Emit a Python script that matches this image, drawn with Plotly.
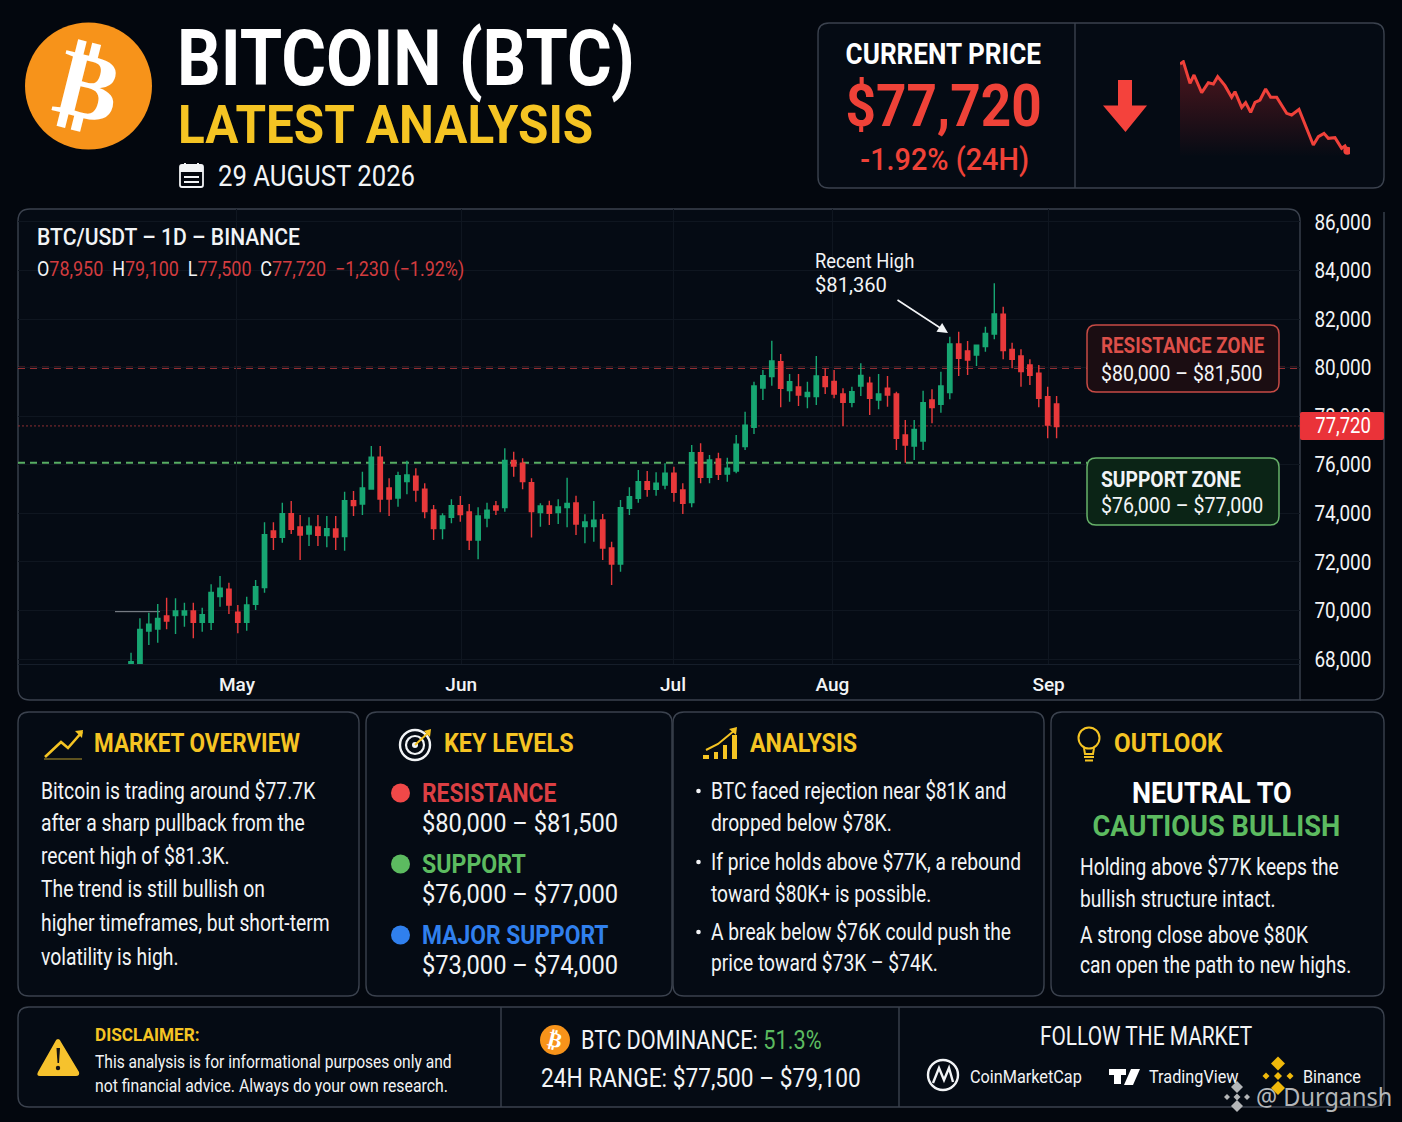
import json
import re
import plotly.graph_objects as go

W = 1402
H = 1122
BG = "#03070e"
PANEL = "#050b14"
EDGE = "#3b424e"
WHITE = "#f2f4f6"
YELLOW = "#f5c423"
RED = "#ef4238"
GREEN = "#5cbb60"
BLUE = "#3080ee"
FONT = "Roboto, sans-serif"

# daily candles
candle_open = [67822, 67400, 69154, 69236, 69772, 69785, 69813, 69977, 69511, 69511,
               70568, 70870, 69923, 69511, 70252, 70939, 73273, 73012, 73987, 73438,
               73149, 73438, 73081, 73355, 73039, 74522, 74385, 75003, 76307, 75044,
               74632, 75305, 75525, 74989, 74138, 73369, 73836, 74316, 74055, 72902,
               73808, 74302, 74234, 76183, 76060, 75264, 74028, 74302, 74028, 74234,
               74426, 73451, 73451, 73726, 72573, 71913, 74206, 74618, 75305, 74989,
               75168, 75648, 74962, 74440, 76499, 75483, 76238, 75621, 75744, 76746,
               77542, 79163, 79629, 80247, 79053, 79204, 78806, 78806, 79629, 79437,
               78915, 78572, 79245, 79355, 78668, 79149, 78915, 77227, 76774, 76980,
               78668, 78490, 78970, 80975, 80687, 80522, 80865, 81387, 82197, 80755,
               80481, 80110, 79767, 78806, 78504]
candle_high = [68261, 69675, 69909, 70266, 70527, 70499, 70321, 70321, 70115, 71076,
               71419, 71145, 70225, 70568, 71254, 73630, 73630, 74440, 74508, 73932,
               73836, 73932, 73891, 73891, 74893, 74920, 75717, 76774, 76774, 75442,
               75717, 76170, 75854, 75236, 74343, 73999, 74577, 74714, 74385, 74248,
               74440, 74508, 76678, 76541, 76266, 75442, 74412, 74522, 74577, 75470,
               74728, 73959, 74508, 73973, 72833, 74550, 75071, 75785, 75744, 75689,
               76060, 75923, 75236, 76815, 76884, 76403, 76499, 76293, 77227, 78188,
               79423, 79904, 81112, 80563, 79739, 79739, 79423, 80481, 79973, 79904,
               79149, 79218, 80179, 79629, 79739, 79657, 79012, 77844, 77844, 79053,
               79108, 79835, 81277, 81483, 81098, 80934, 81689, 83474, 82513, 81030,
               80755, 80343, 80110, 79218, 78833]
candle_low = [67600, 67300, 68577, 68673, 69222, 69030, 69332, 68852, 69127, 69195,
              70156, 69854, 69058, 69168, 70019, 70733, 72490, 72792, 73149, 72078,
              72655, 72655, 72600, 72490, 72463, 73891, 73932, 75003, 74042, 73891,
              74275, 74783, 74481, 73795, 72902, 72930, 73589, 73657, 72490, 72106,
              73424, 73932, 74069, 75511, 74989, 73000, 73451, 73520, 73561, 73424,
              73108, 72765, 72833, 72078, 71049, 71598, 73932, 74440, 74687, 74728,
              74989, 74481, 73973, 74248, 75236, 75236, 75374, 75305, 75648, 76609,
              77268, 78668, 79259, 78366, 78600, 78421, 78325, 78462, 78915, 78737,
              77597, 78366, 78833, 78051, 78284, 78394, 76609, 76087, 76197, 76609,
              77707, 78147, 78696, 79657, 79698, 80069, 80659, 81167, 80343, 79973,
              79217, 79286, 78366, 77089, 77089]
candle_close = [67890, 69222, 69429, 69675, 69566, 69977, 69977, 69511, 69827, 70746,
                70911, 70225, 69511, 70225, 70980, 73122, 73012, 73987, 73341, 73108,
                73465, 73094, 73369, 73026, 74522, 74316, 75044, 76307, 74591, 74591,
                75552, 75579, 74962, 74069, 73369, 73891, 74316, 73946, 72902, 73891,
                74124, 74138, 76183, 75950, 75305, 74069, 74302, 74000, 74261, 74412,
                73561, 73643, 73712, 72573, 71913, 74234, 74687, 75305, 74989, 75236,
                75648, 74865, 74412, 76499, 75483, 76197, 75607, 75854, 76843, 77625,
                79245, 79671, 80275, 79149, 79423, 78874, 78984, 79657, 79217, 78915,
                78572, 79012, 79684, 78737, 78915, 78874, 77089, 76815, 77460, 78558,
                78352, 79245, 80975, 80385, 80316, 80920, 81414, 82211, 80700, 80343,
                79835, 79684, 78737, 77638, 77570]
candle_x = list(range(len(candle_close)))

month_pos = [11.9, 37.1, 60.9, 78.8, 103.1]
month_labels = ["May", "Jun", "Jul", "Aug", "Sep"]
price_ticks = [68000, 70000, 72000, 74000, 76000, 78000, 80000, 82000, 84000, 86000]
price_labels = ["68,000", "70,000", "72,000", "74,000", "76,000", "78,000", "80,000", "82,000", "84,000", "86,000"]

resistance_level = 80000
support_level = 76080
last_level = 77600
early_level = 69950

spark_hours = [0, 0.47, 1.41, 1.98, 3.06, 4.0, 4.71, 5.32, 6.35, 7.29, 7.76, 8.71, 9.27, 9.98, 10.59, 11.29,
               12.09, 12.8, 13.65, 15.06, 15.76, 16.8, 18.82, 19.53, 20.33, 20.94, 21.88, 22.82, 23.29, 23.62, 24]
spark_price = [81256, 81351, 80467, 80807, 80086, 80494, 80440, 80739, 80372, 79896, 80127, 79488, 79678, 79284,
               79692, 79787, 80236, 79896, 79896, 79243, 79175, 79406, 77951, 78291, 78427, 78223, 78250, 77815,
               77910, 77720, 77815]


def path(cmds):
    # pixel path -> paper path
    nums = iter(range(10 ** 6))

    def conv(m):
        v = float(m.group(0))
        if next(nums) % 2 == 0:
            return f"{v / W:.5f}"
        return f"{1 - v / H:.5f}"

    return re.sub(r"-?\d+\.?\d*", conv, cmds)


def round_rect(x0, y0, x1, y1, r):
    return (f"M{x0 + r} {y0} L{x1 - r} {y0} Q{x1} {y0} {x1} {y0 + r} L{x1} {y1 - r} Q{x1} {y1} {x1 - r} {y1} "
            f"L{x0 + r} {y1} Q{x0} {y1} {x0} {y1 - r} L{x0} {y0 + r} Q{x0} {y0} {x0 + r} {y0} Z")


fig = go.Figure()

fig.add_trace(go.Candlestick(
    x=candle_x, open=candle_open, high=candle_high, low=candle_low, close=candle_close,
    increasing=dict(line=dict(color="#17a672", width=1.4), fillcolor="#17a672"),
    decreasing=dict(line=dict(color="#e8393b", width=1.4), fillcolor="#e8393b"),
    whiskerwidth=0, showlegend=False, hoverinfo="skip"))

fig.add_trace(go.Scatter(
    x=spark_hours, y=spark_price, xaxis="x2", yaxis="y2", mode="lines",
    line=dict(color="#f0413a", width=3), fill="tozeroy",
    fillgradient=dict(type="vertical", start=77462, stop=81400,
                      colorscale=[[0, "rgba(200,40,45,0)"], [1, "rgba(200,40,45,0.38)"]]),
    showlegend=False, hoverinfo="skip"))
fig.add_trace(go.Scatter(
    x=spark_hours[-2:-1], y=spark_price[-2:-1], xaxis="x2", yaxis="y2", mode="markers",
    marker=dict(color="#f0413a", size=8), showlegend=False, hoverinfo="skip"))


def shape_path(cmds, fill="rgba(0,0,0,0)", line=None, width=1, layer="below"):
    fig.add_shape(type="path", path=path(cmds), xref="paper", yref="paper", fillcolor=fill,
                  line=dict(color=line or "rgba(0,0,0,0)", width=width if line else 0), layer=layer)


def circle(cx, cy, r, fill="rgba(0,0,0,0)", line=None, width=1, layer="above"):
    fig.add_shape(type="circle", xref="paper", yref="paper", x0=(cx - r) / W, x1=(cx + r) / W,
                  y0=1 - (cy + r) / H, y1=1 - (cy - r) / H, fillcolor=fill,
                  line=dict(color=line or "rgba(0,0,0,0)", width=width if line else 0), layer=layer)


# the reference uses a condensed face, only plain Roboto is here, so each text gets a width factor
squeeze = []


def label(x, y, s, size, color=WHITE, weight=400, anchor="left", family=FONT, angle=0, fit=1):
    squeeze.append(fit)
    fig.add_annotation(x=x / W, y=1 - y / H, xref="paper", yref="paper", text=s, showarrow=False,
                       xanchor=anchor, align=anchor, yanchor="middle", textangle=angle,
                       borderpad=0, borderwidth=0,
                       font=dict(family=family, size=size, color=color, weight=weight))


def panel(x0, y0, x1, y1):
    shape_path(round_rect(x0, y0, x1, y1, 11), fill=PANEL, line=EDGE, width=1.4)


# panels
panel(818, 23, 1384, 188)
shape_path("M1075 23 L1075 188", line=EDGE, width=1.4)
shape_path("M18 688 L18 221 Q18 209 30 209 L1288 209 Q1300 209 1300 221 L1300 700 L30 700 Q18 700 18 688 Z",
           fill=PANEL, line=EDGE, width=1.4)
shape_path("M1300 700 L1372 700 Q1384 700 1384 688 L1384 212", line=EDGE, width=1.4)
panel(18, 712, 359, 996)
panel(366, 712, 672, 996)
panel(673, 712, 1044, 996)
panel(1051, 712, 1384, 996)
panel(18, 1007, 1384, 1107)
shape_path("M501 1007 L501 1107", line=EDGE, width=1.4)
shape_path("M899 1007 L899 1107", line=EDGE, width=1.4)

# level lines
fig.add_shape(type="line", xref="paper", yref="y", x0=18 / W, x1=1300 / W, y0=resistance_level, y1=resistance_level,
              line=dict(color="#c23d3e", width=2, dash="7px,5px"), layer="below")
fig.add_shape(type="line", xref="paper", yref="y", x0=18 / W, x1=1087 / W, y0=support_level, y1=support_level,
              line=dict(color="#58ae63", width=2, dash="7px,5px"), layer="below")
fig.add_shape(type="line", xref="paper", yref="y", x0=18 / W, x1=1300 / W, y0=last_level, y1=last_level,
              line=dict(color="#8d2e32", width=1, dash="2px,2px"), layer="below")
fig.add_shape(type="line", xref="paper", yref="y", x0=115 / W, x1=160 / W, y0=early_level, y1=early_level,
              line=dict(color="#8b9097", width=1), layer="below")

# zone boxes and last price tag
shape_path(round_rect(1087, 325, 1279, 392, 9), fill="#1b0d12", line="#c74b45", width=1.5, layer="above")
shape_path(round_rect(1087, 458, 1279, 525, 9), fill="#0b2416", line="#67b26a", width=1.5, layer="above")
shape_path(round_rect(1300, 412, 1384, 440, 2), fill="#ea3339", layer="above")

# bitcoin logo
circle(88.5, 86, 63.5, fill="#f7931a")
label(88.5, 85, "₿", 94, "#ffffff", weight=700, anchor="center", family="DejaVu Sans", angle=14)
circle(555, 1040, 15, fill="#f7931a")
label(555, 1040, "₿", 21, "#ffffff", weight=700, anchor="center", family="DejaVu Sans", angle=14)

# header text
label(177, 58, "BITCOIN (BTC)", 78, "#ffffff", weight=700, fit=0.878)
label(178, 125, "LATEST ANALYSIS", 53, YELLOW, weight=700, fit=0.932)
label(218, 176, "29 AUGUST 2026", 29, fit=0.887)
shape_path(round_rect(180, 165, 203, 187, 2), line=WHITE, width=1.8, layer="above")
shape_path("M180 172 L203 172 L203 166 L180 166 Z", fill=WHITE, layer="above")
shape_path("M185 163 L185 168 M198 163 L198 168", line=WHITE, width=2, layer="above")
shape_path("M184 177 L199 177 M184 182 L199 182", line=WHITE, width=2, layer="above")

label(943, 53, "CURRENT PRICE", 30, "#ffffff", weight=700, anchor="center", fit=0.87)
label(943, 105, "$77,720", 60, RED, weight=700, anchor="center", fit=0.886)
label(944, 160, "-1.92% (24H)", 31, RED, weight=500, anchor="center", fit=0.93)
shape_path("M1118 80 L1132 80 L1132 105.5 L1147 105.5 L1125.5 132 L1103 105.5 L1118 105.5 Z", fill="#f4423c", layer="above")

# chart text
label(37, 237, "BTC/USDT – 1D – BINANCE", 24, weight=500, fit=0.88)
ohlc_red = '<span style="color:#d23c3f">%s</span>'
label(37, 269, "O" + ohlc_red % "78,950" + "  H" + ohlc_red % "79,100" + "  L" + ohlc_red % "77,500"
      + "  C" + ohlc_red % "77,720" + "  " + ohlc_red % "−1,230 (−1.92%)", 20, fit=0.897)
label(815, 261, "Recent High", 21, fit=0.876)
label(815, 285, "$81,360", 21, fit=0.96)
squeeze.append(1)
fig.add_annotation(x=948 / W, y=1 - 333 / H, xref="paper", yref="paper", ax=-52, ay=-34,
                   text="", showarrow=True, arrowhead=2, arrowsize=1.3,
                   arrowwidth=1.6, arrowcolor=WHITE)
label(1101, 346, "RESISTANCE ZONE", 22, "#dd4f49", weight=700, fit=0.854)
label(1101, 373, "$80,000 – $81,500", 22, fit=0.885)
label(1101, 479, "SUPPORT ZONE", 22, WHITE, weight=700, fit=0.875)
label(1101, 506, "$76,000 – $77,000", 22, fit=0.89)
label(1343, 426, "77,720", 22, "#ffffff", anchor="center", fit=0.84)

# market overview
shape_path("M45 757 L61 742 L68 748 L82 732", line=YELLOW, width=2.6, layer="above")
shape_path("M75 731 L83 730 L82 738 Z", fill=YELLOW, layer="above")
shape_path("M44 759 L82 759", line="#b59a2a", width=1.2, layer="above")
label(94, 743, "MARKET OVERVIEW", 25, YELLOW, weight=700, fit=0.9)
for y, s in zip([791, 823, 856, 889, 923, 957],
                ["Bitcoin is trading around $77.7K", "after a sharp pullback from the", "recent high of $81.3K.",
                 "The trend is still bullish on", "higher timeframes, but short-term", "volatility is high."]):
    label(41, y, s, 23, fit=0.84)

# key levels
circle(415, 745, 15, line=WHITE, width=2.4)
circle(415, 745, 9, line=WHITE, width=2.2)
circle(415, 745, 3, fill=WHITE)
shape_path("M415 745 L429 732", line=YELLOW, width=2, layer="above")
shape_path("M424 731 L431 729 L430 737 Z", fill=YELLOW, layer="above")
label(444, 743, "KEY LEVELS", 25, YELLOW, weight=700, fit=0.935)
for y, color, name, rng, f in zip([793, 864, 935], ["#dc3f43", GREEN, BLUE], ["RESISTANCE", "SUPPORT", "MAJOR SUPPORT"],
                                  ["$80,000 – $81,500", "$76,000 – $77,000", "$73,000 – $74,000"], [0.877, 0.89, 0.877]):
    circle(400.5, y, 9.5, fill="#f04848" if color == "#dc3f43" else color)
    label(422, y, name, 26, color, weight=700, fit=f)
    label(422, y + 30, rng, 26, fit=0.91)

# analysis
for x0, x1, top in [(703, 709, 755), (714, 718, 752), (723, 727, 745), (732, 737, 735)]:
    shape_path(f"M{x0} {top} L{x1} {top} L{x1} 759 L{x0} 759 Z", fill=YELLOW, layer="above")
shape_path("M706 750 L718 744 L735 730", line=YELLOW, width=2, layer="above")
shape_path("M729 729 L737 727 L736 735 Z", fill=YELLOW, layer="above")
label(750, 743, "ANALYSIS", 25, YELLOW, weight=700, fit=0.93)
for y, s in zip([791, 823, 862, 894, 932, 963],
                ["BTC faced rejection near $81K and", "dropped below $78K.", "If price holds above $77K, a rebound",
                 "toward $80K+ is possible.", "A break below $76K could push the", "price toward $73K – $74K."]):
    label(711, y, s, 23, fit=0.835)
for y in [791, 862, 932]:
    circle(698.5, y, 2.3, fill=WHITE)

# outlook
circle(1089, 738, 10.5, line=YELLOW, width=2)
shape_path("M1084 748 L1085 754 L1093 754 L1094 748", line=YELLOW, width=2, layer="above")
shape_path("M1084 757 L1094 757 M1085 760.5 L1093 760.5", line=YELLOW, width=2, layer="above")
label(1114, 743, "OUTLOOK", 25, YELLOW, weight=700, fit=0.965)
label(1212, 792, "NEUTRAL TO", 30, "#ffffff", weight=700, anchor="center", fit=0.9)
label(1216, 825, "CAUTIOUS BULLISH", 30, GREEN, weight=700, anchor="center", fit=0.908)
for y, s in zip([868, 899, 935, 965],
                ["Holding above $77K keeps the", "bullish structure intact.", "A strong close above $80K",
                 "can open the path to new highs."]):
    label(1080, y, s, 23, fit=0.835)

# bottom strip
shape_path("M58 1039 Q60 1039 61 1042 L79 1072 Q80 1076 76 1076 L40 1076 Q36 1076 38 1072 L55 1042 Q56 1039 58 1039 Z",
           fill="#f6c22d", layer="above")
shape_path("M56.5 1048 L60 1048 L59 1063 L57.5 1063 Z", fill="#141414", layer="above")
circle(58, 1068, 2.2, fill="#141414")
label(95, 1034, "DISCLAIMER:", 18, YELLOW, weight=700, fit=0.955)
label(95, 1061, "This analysis is for informational purposes only and", 19, fit=0.82)
label(95, 1085, "not financial advice. Always do your own research.", 19, fit=0.832)
label(581, 1040, 'BTC DOMINANCE: <span style="color:#5cbb60">51.3%</span>', 25, fit=0.87)
label(541, 1078, "24H RANGE: $77,500 – $79,100", 25, fit=0.907)
label(1146, 1036, "FOLLOW THE MARKET", 25, anchor="center", fit=0.835)

circle(943, 1075, 15, line=WHITE, width=2.4)
shape_path("M933 1083 L939 1068 L944 1080 L949 1068 L953 1082", line=WHITE, width=2.4, layer="above")
label(970, 1076, "CoinMarketCap", 19, fit=0.855)
shape_path("M1109 1069 L1126 1069 L1126 1075 L1121 1075 L1121 1084 L1114 1084 L1114 1075 L1109 1075 Z", fill="#ffffff", layer="above")
shape_path("M1131 1069 L1140 1069 L1133 1085 L1124 1085 Z", fill="#ffffff", layer="above")
label(1149, 1076, "TradingView", 19, fit=0.856)
for cx, cy, r in [(1278, 1063.5, 7), (1266, 1076, 3.5), (1278, 1076, 4), (1290, 1076, 3.5), (1278, 1088, 7)]:
    shape_path(f"M{cx} {cy - r} L{cx + r} {cy} L{cx} {cy + r} L{cx - r} {cy} Z", fill="#f0b90b", layer="above")
label(1303, 1076, "Binance", 19, fit=0.853)

# watermark
for cx, cy, r in [(1237, 1087, 6), (1227, 1097, 3), (1237, 1097, 3.5), (1247, 1097, 3), (1237, 1106, 6)]:
    shape_path(f"M{cx} {cy - r} L{cx + r} {cy} L{cx} {cy + r} L{cx - r} {cy} Z", fill="#b4b6b8", layer="above")
label(1256, 1096, "@ Durgansh", 25, "#b4b6b8", family="Noto Sans, DejaVu Sans", fit=0.94)

fig.update_layout(
    width=W, height=H, autosize=False, margin=dict(l=0, r=0, t=0, b=0, autoexpand=False),
    paper_bgcolor=BG, plot_bgcolor="rgba(0,0,0,0)", showlegend=False, dragmode=False,
    xaxis=dict(domain=[18 / W, 1300 / W], range=[-12.7, 131.35], rangeslider=dict(visible=False), anchor="y",
               tickvals=month_pos, ticktext=month_labels, ticks="outside", ticklen=3, tickcolor="rgba(0,0,0,0)",
               tickfont=dict(family="Roboto", size=19, color=WHITE, weight=500), showgrid=True, gridcolor="#0f1620",
               gridwidth=1, zeroline=False, showline=True, linecolor="#161e2a"),
    yaxis=dict(domain=[1 - 664 / H, 1 - 209 / H], range=[67794, 86535], side="right", anchor="x",
               tickvals=price_ticks, ticktext=price_labels, ticks="outside", ticklen=9, tickcolor="rgba(0,0,0,0)",
               tickfont=dict(family=FONT, size=22, color=WHITE), showgrid=True, gridcolor="#0f1620", gridwidth=1,
               zeroline=False, showline=False),
    xaxis2=dict(domain=[1180 / W, 1350 / W], range=[0, 24], visible=False, anchor="y2"),
    yaxis2=dict(domain=[1 - 157 / H, 1 - 60 / H], range=[77462, 81419], visible=False, anchor="x2"),
)

post = """
document.body.style.margin = '0';
document.body.style.background = '%s';
var fits = %s;
function narrow(t, f) {
    t.setAttribute('textLength', t.getComputedTextLength() * f);
    t.setAttribute('lengthAdjust', 'spacingAndGlyphs');
}
document.querySelectorAll('.annotation').forEach(function (a) {
    var i = +a.getAttribute('data-index');
    var t = a.querySelector('text');
    if (t && fits[i] < 1) narrow(t, fits[i]);
});
document.querySelectorAll('.ytick text').forEach(function (t) { narrow(t, 0.86); });
""" % (BG, json.dumps(squeeze))

fig.write_html("out.html", config={"displayModeBar": False}, post_script=post)
